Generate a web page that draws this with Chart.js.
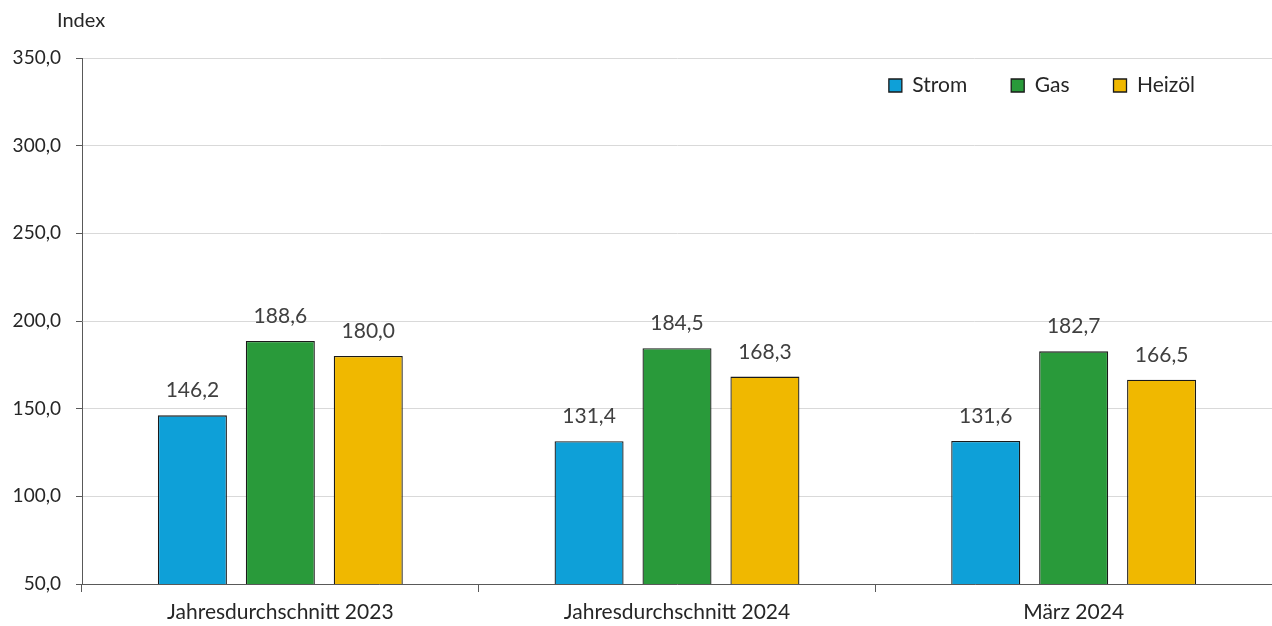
<!DOCTYPE html>
<html>
<head>
<meta charset="utf-8">
<script src="https://cdn.jsdelivr.net/npm/chart.js@4/dist/chart.umd.min.js"></script>
<style>
  html, body { margin: 0; padding: 0; background: #fff; }
  #wrap { width: 1272px; height: 626px; }
</style>
</head>
<body>
<div id="wrap"><canvas id="priceChart"></canvas></div>
<script>
const categories = ['Jahresdurchschnitt 2023', 'Jahresdurchschnitt 2024', 'März 2024'];
const strom = [146.2, 131.4, 131.6];
const gas = [188.6, 184.5, 182.7];
const heizoel = [180.0, 168.3, 166.5];
const yTicks = [50, 100, 150, 200, 250, 300, 350];

const FONT = 'Lato, "Noto Sans", sans-serif';
const fmt = v => v.toFixed(1).replace('.', ',');

// values above the bars
const barLabels = {
    id: 'barLabels',
    afterDatasetsDraw(chart) {
        const ctx = chart.ctx;
        ctx.save();
        ctx.font = '21px ' + FONT;
        ctx.fillStyle = '#404040';
        ctx.textAlign = 'center';
        ctx.textBaseline = 'alphabetic';
        chart.data.datasets.forEach((ds, i) => {
            chart.getDatasetMeta(i).data.forEach((bar, j) => {
                ctx.fillText(fmt(ds.data[j]), bar.x, bar.y - 18);
            });
        });
        ctx.restore();
    }
};

// legend sits inside the plot, top right
const legendInside = {
    id: 'legendInside',
    afterLayout(chart) {
        const lg = chart.legend;
        lg.top = 31; lg.bottom = 150; lg.height = 119;
        lg.left = 600; lg.right = 1239; lg.width = 639;
    }
};

const axisTitle = {
    id: 'axisTitle',
    afterDraw(chart) {
        const ctx = chart.ctx;
        ctx.save();
        ctx.font = '20px ' + FONT;
        ctx.fillStyle = '#262626';
        ctx.textBaseline = 'middle';
        ctx.fillText('Index', 57, 21);
        ctx.restore();
    }
};

const ctx = document.getElementById('priceChart').getContext('2d');
const chart = new Chart(ctx, {
    type: 'bar',
    data: {
        labels: categories,
        datasets: [
            { label: 'Strom', data: strom, backgroundColor: '#0EA0D8' },
            { label: 'Gas', data: gas, backgroundColor: '#299A3A' },
            { label: 'Heizöl', data: heizoel, backgroundColor: '#F0B800' }
        ].map(d => Object.assign(d, {
            borderColor: '#1A1A1A',
            borderWidth: 1.3,
            borderSkipped: false,
            categoryPercentage: 0.665,
            barPercentage: 0.785
        }))
    },
    options: {
        responsive: true,
        maintainAspectRatio: false,
        animation: false,
        layout: { padding: { top: 57, right: 0, bottom: 0, left: 0 } },
        plugins: {
            tooltip: { enabled: false },
            legend: {
                position: 'top',
                align: 'end',
                maxHeight: 1,
                labels: {
                    boxWidth: 13,
                    boxHeight: 13,
                    padding: 44,
                    color: '#262626',
                    font: { family: FONT, size: 21 }
                }
            }
        },
        scales: {
            x: {
                afterFit: s => { s.height = 42; },
                grid: {
                    offset: true,
                    drawOnChartArea: false,
                    tickLength: 8,
                    tickColor: '#595959'
                },
                border: { color: '#595959', width: 1 },
                ticks: {
                    padding: 8,
                    color: '#262626',
                    font: { family: FONT, size: 21 }
                }
            },
            y: {
                min: 50,
                max: 350,
                afterFit: s => { s.width = 82; },
                afterBuildTicks: s => { s.ticks = yTicks.map(v => ({ value: v })); },
                grid: {
                    color: '#D9D9D9',
                    tickLength: 6,
                    tickColor: '#595959'
                },
                border: { color: '#595959', width: 1 },
                ticks: {
                    padding: 15,
                    color: '#262626',
                    font: { family: FONT, size: 19 },
                    callback: v => fmt(v)
                }
            }
        }
    },
    plugins: [barLabels, legendInside, axisTitle]
});
</script>
</body>
</html>
